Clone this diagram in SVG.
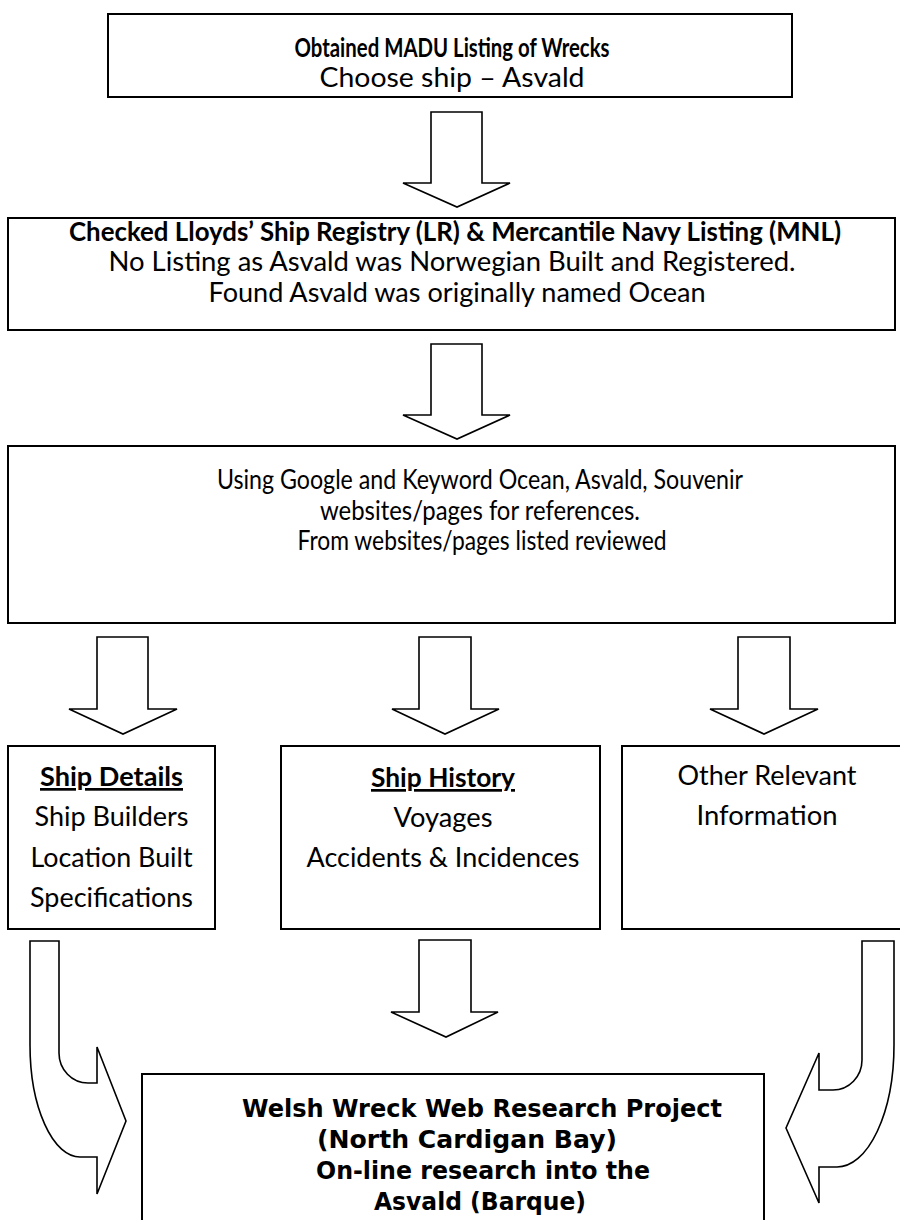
<svg xmlns="http://www.w3.org/2000/svg" width="900" height="1220" viewBox="0 0 900 1220">
<style>
.box{fill:#fff;stroke:#000;stroke-width:2}
.arr{fill:#fff;stroke:#000;stroke-width:1.6;stroke-linejoin:miter}
.t{font-family:Lato,"Open Sans","Liberation Sans",sans-serif;font-size:27px;fill:#000;text-anchor:middle}
.b{font-weight:bold}
.u{text-decoration:underline}
.v{font-family:"DejaVu Sans",Verdana,sans-serif;font-size:24px;font-weight:bold;fill:#000}
</style>
<rect width="900" height="1220" fill="#fff"/>
<g id="connectors">
<path class="arr" d="M431,112 H482 V183 H510 L457,207 L403,183 H431 Z"/>
<path class="arr" d="M431,344 H482 V415 H510 L457,439 L403,415 H431 Z"/>
<path class="arr" d="M97,637 H148 V709 H177 L123,734 L69,709 H97 Z"/>
<path class="arr" d="M419,637 H471 V709 H499 L445,734 L392,709 H419 Z"/>
<path class="arr" d="M738,637 H790 V709 H818 L764,734 L710,709 H738 Z"/>
<path class="arr" d="M419,940 H471 V1012 H498 L446,1037 L391,1012 H419 Z"/>
<path class="arr" d="M30,941 H59 V1053 A29,30 0 0 0 88,1083 H97 V1047 L126,1121 L97,1194 V1157 H80 A50,112 0 0 1 30,1045 Z"/>
<path class="arr" d="M862,941 H894 V1045 A57,122 0 0 1 837,1167 H819 V1203 L786,1128 L819,1053 V1090 H833 A29,30 0 0 0 862,1060 Z"/>
</g>
<g id="n1">
<rect class="box" x="108" y="14" width="684" height="83"/>
<text class="t b" x="452" y="57" font-size="24" textLength="315" lengthAdjust="spacingAndGlyphs">Obtained MADU Listing of Wrecks</text>
<text class="t" x="452" y="87" font-size="26" textLength="265" lengthAdjust="spacingAndGlyphs">Choose ship – Asvald</text>
</g>
<g id="n2">
<rect class="box" x="8" y="218" width="887" height="112"/>
<text class="t b" x="455" y="241" textLength="772" lengthAdjust="spacingAndGlyphs">Checked Lloyds’ Ship Registry (LR) &amp; Mercantile Navy Listing (MNL)</text>
<text class="t" x="452" y="271" textLength="687" lengthAdjust="spacingAndGlyphs">No Listing as Asvald was Norwegian Built and Registered.</text>
<text class="t" x="457" y="302" textLength="497" lengthAdjust="spacingAndGlyphs">Found Asvald was originally named Ocean</text>
</g>
<g id="n3">
<rect class="box" x="8" y="446" width="887" height="177"/>
<text class="t" x="480" y="489" font-size="24" textLength="526" lengthAdjust="spacingAndGlyphs">Using Google and Keyword Ocean, Asvald, Souvenir</text>
<text class="t" x="480" y="520" font-size="24" textLength="320" lengthAdjust="spacingAndGlyphs">websites/pages for references.</text>
<text class="t" x="482" y="550" font-size="24" textLength="369" lengthAdjust="spacingAndGlyphs">From websites/pages listed reviewed</text>
</g>
<g id="n4">
<rect class="box" x="8" y="746" width="207" height="183"/>
<text class="t b u" x="111.5" y="786" textLength="143" lengthAdjust="spacingAndGlyphs">Ship Details</text>
<text class="t" x="111.5" y="826" textLength="154" lengthAdjust="spacingAndGlyphs">Ship Builders</text>
<text class="t" x="111.5" y="867" textLength="162" lengthAdjust="spacingAndGlyphs">Location Built</text>
<text class="t" x="111.5" y="907" textLength="163" lengthAdjust="spacingAndGlyphs">Specifications</text>
</g>
<g id="n5">
<rect class="box" x="281" y="746" width="319" height="183"/>
<text class="t b u" x="443" y="787" textLength="144" lengthAdjust="spacingAndGlyphs">Ship History</text>
<text class="t" x="443" y="827" textLength="99" lengthAdjust="spacingAndGlyphs">Voyages</text>
<text class="t" x="443" y="867" textLength="273" lengthAdjust="spacingAndGlyphs">Accidents &amp; Incidences</text>
</g>
<g id="n6">
<rect class="box" x="622" y="746" width="292" height="183"/>
<text class="t" x="767" y="785" textLength="179" lengthAdjust="spacingAndGlyphs">Other Relevant</text>
<text class="t" x="767" y="825" textLength="141" lengthAdjust="spacingAndGlyphs">Information</text>
</g>
<g id="n7">
<rect class="box" x="142" y="1074" width="622" height="160"/>
<text class="v" x="242" y="1117" textLength="480" lengthAdjust="spacingAndGlyphs">Welsh Wreck Web Research Project</text>
<text class="v" x="317" y="1148" textLength="300" lengthAdjust="spacingAndGlyphs">(North Cardigan Bay)</text>
<text class="v" x="316" y="1179" textLength="334" lengthAdjust="spacingAndGlyphs">On-line research into the</text>
<text class="v" x="374" y="1210" textLength="212" lengthAdjust="spacingAndGlyphs">Asvald (Barque)</text>
</g>
</svg>
